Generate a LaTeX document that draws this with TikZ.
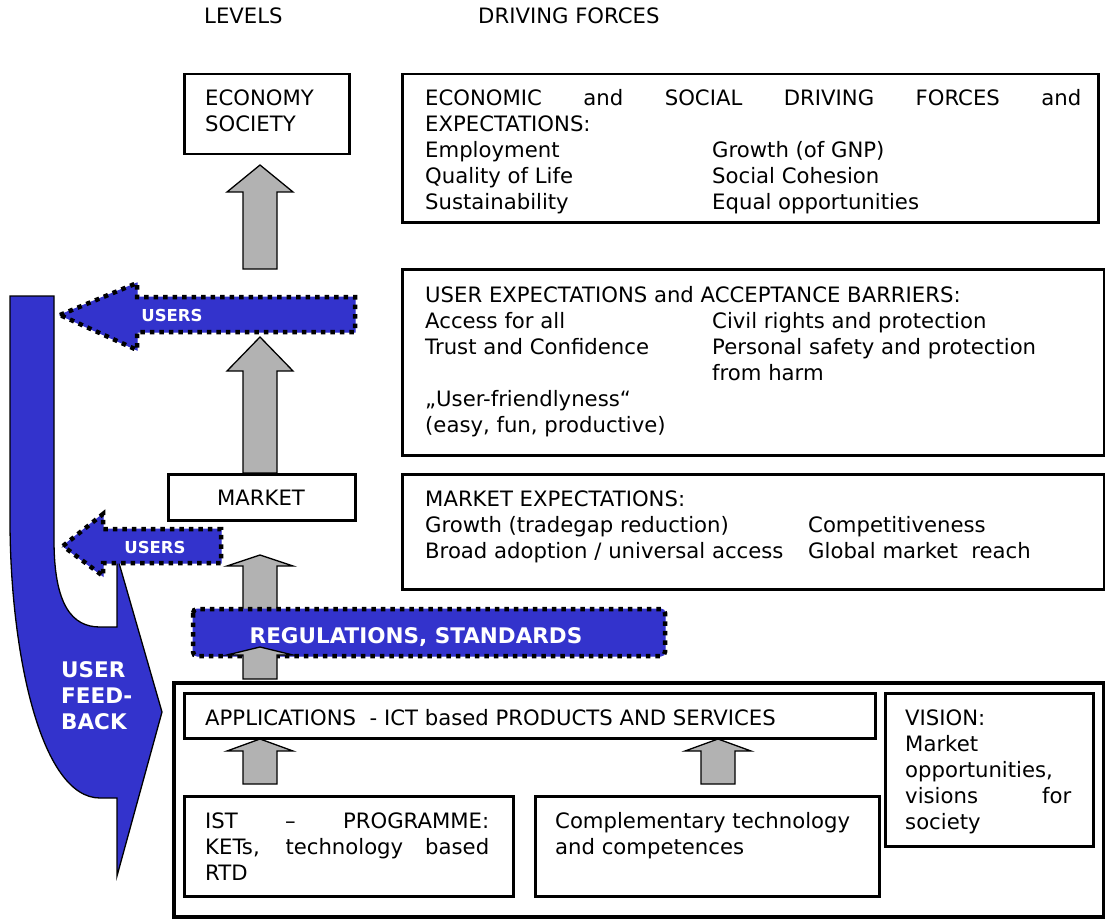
\documentclass[tikz,border=0pt]{standalone}
\usepackage{fontspec}
\setmainfont{DejaVu Sans}
\definecolor{ublue}{HTML}{3333CC}
\definecolor{agray}{HTML}{B2B2B2}
\newcommand{\upblock}[5][]{%
  \draw[grayarr,#1] (#2-17,#5) -- (#2-17,#4) -- (#2-33,#4) -- (#2,#3) -- (#2+33,#4) -- (#2+17,#4) -- (#2+17,#5) -- cycle;}
\begin{document}
\begin{tikzpicture}[x=1pt,y=-1pt,
  box/.style={draw=black,line width=2.5pt,fill=white,rectangle,inner sep=0pt,anchor=north west},
  thickbox/.style={box,line width=3pt},
  txt/.style={anchor=base west,inner sep=0pt,font=\fontsize{21.2}{26}\selectfont},
  wtxt/.style={anchor=base,inner sep=0pt,text=white,font=\fontsize{16.5}{18}\selectfont\bfseries},
  fbtxt/.style={anchor=base west,inner sep=0pt,text=white,font=\fontsize{21.5}{26}\selectfont\bfseries},
  grayarr/.style={draw=black,line width=1.3pt,fill=agray,line join=miter},
  dotted border/.style={draw=black,line width=4.5pt,dash pattern=on 4.5pt off 5pt},
  bluefill/.style={fill=ublue,draw=ublue,line width=1pt}
]
\useasboundingbox (0,0) rectangle (1105,920);

% headers
\node[txt] (hlev) at (204,24) {LEVELS};
\node[txt] (hdrv) at (478,24) {DRIVING FORCES};

% user feedback shape
\draw[fill=ublue,draw=black,line width=1.3pt,line join=miter]
  (10,296) -- (54,296) -- (54,540) .. controls (54,605) and (72,627) .. (100,627)
  -- (117,627) -- (117,556) -- (162,712) -- (117,876) -- (117,798) -- (100,798)
  .. controls (40,798) and (10,650) .. (10,520) -- cycle;
\node[fbtxt] (fb) at (61,677) {USER};
\node[fbtxt] (fb2) at (61,703) {FEED-};
\node[fbtxt] (fb3) at (61,729) {BACK};

% gray arrows (behind boxes)
\upblock{260}{165}{192}{269}
\upblock{260}{337}{371}{473}
\upblock{260}{555}{566}{612}

% level boxes
\node[box,minimum width=165pt,minimum height=80pt] (eco) at (183,73) {};
\node[txt] at (205,106) {ECONOMY};
\node[txt] at (205,132) {SOCIETY};

\node[box,minimum width=187pt,minimum height=46pt] (mkt) at (167,473) {};
\node[anchor=base,inner sep=0pt,font=\fontsize{21.2}{26}\selectfont] at (261,505) {MARKET};

% driving force boxes
\node[box,minimum width=696pt,minimum height=148pt] (df1) at (401,73) {};
\node[txt] at (425,106) {\makebox[656pt][s]{ECONOMIC and SOCIAL DRIVING FORCES and}};
\node[txt] at (425,132) {EXPECTATIONS:};
\node[txt] at (425,158) {Employment};
\node[txt] at (712,158) {Growth (of GNP)};
\node[txt] at (425,184) {Quality of Life};
\node[txt] at (712,184) {Social Cohesion};
\node[txt] at (425,210) {Sustainability};
\node[txt] at (712,210) {Equal opportunities};

\node[box,minimum width=702pt,minimum height=186pt] (df2) at (401,268) {};
\node[txt] at (425,302) {USER EXPECTATIONS and ACCEPTANCE BARRIERS:};
\node[txt] at (425,328) {Access for all};
\node[txt] at (712,328) {Civil rights and protection};
\node[txt] at (425,354) {Trust and Confidence};
\node[txt] at (712,354) {Personal safety and protection};
\node[txt] at (712,380) {from harm};
\node[txt] at (425,406) {„User-friendlyness“};
\node[txt] at (425,432) {(easy, fun, productive)};

\node[box,minimum width=702pt,minimum height=115pt] (df3) at (401,473) {};
\node[txt] at (425,506) {MARKET EXPECTATIONS:};
\node[txt] at (425,532) {Growth (tradegap reduction)};
\node[txt] at (808,532) {Competitiveness};
\node[txt] at (425,558) {Broad adoption / universal access};
\node[txt] at (808,558) {Global market\ \ reach};

% USERS arrows
\draw[bluefill] (60,315) -- (137,283) -- (137,297) -- (355,297) -- (355,332) -- (137,332) -- (137,350) -- cycle;
\draw[dotted border] (60,315) -- (137,283) -- (137,297) -- (355,297) -- (355,332) -- (137,332) -- (137,350) -- cycle;
\node[wtxt] (u1) at (172,321) {USERS};

\draw[bluefill] (63,546) -- (103,514) -- (103,529) -- (221,529) -- (221,563) -- (103,563) -- (103,576) -- cycle;
\draw[dotted border] (63,546) -- (103,514) -- (103,529) -- (221,529) -- (221,563) -- (103,563) -- (103,576) -- cycle;
\node[wtxt] (u2) at (155,553) {USERS};

% regulations
\draw[bluefill,rounded corners=4pt] (193,609) rectangle (665,656);
\draw[dotted border,rounded corners=4pt] (193,609) rectangle (665,656);
\node[anchor=base,inner sep=0pt,text=white,font=\fontsize{21.5}{24}\selectfont\bfseries] (reg) at (416,643) {REGULATIONS, STANDARDS};

% bottom block
\node[box,line width=4pt,minimum width=930pt,minimum height=234pt] (outer) at (172,681) {};
\upblock{260}{647}{655}{679}
\upblock{260}{739}{751}{784}
\upblock{718}{739}{751}{784}

\node[thickbox,minimum width=691pt,minimum height=45pt] (app) at (183,692) {};
\node[txt] at (205,725) {APPLICATIONS\ \ - ICT based PRODUCTS AND SERVICES};

\node[thickbox,minimum width=329pt,minimum height=100pt] (ist) at (183,795) {};
\node[txt] at (205,828) {\makebox[284pt][s]{IST – PROGRAMME:}};
\node[txt] at (205,854) {\makebox[284pt][s]{KETs, technology based}};
\node[txt] at (205,880) {RTD};

\node[thickbox,minimum width=344pt,minimum height=100pt] (comp) at (534,795) {};
\node[txt] at (555,828) {Complementary technology};
\node[txt] at (555,854) {and competences};

\node[thickbox,minimum width=208pt,minimum height=153pt] (vis) at (884,692) {};
\node[txt] at (905,725) {VISION:};
\node[txt] at (905,751) {Market};
\node[txt] at (905,777) {opportunities,};
\node[txt] at (905,803) {\makebox[166pt][s]{visions for}};
\node[txt] at (905,829) {society};
\end{tikzpicture}
\end{document}
